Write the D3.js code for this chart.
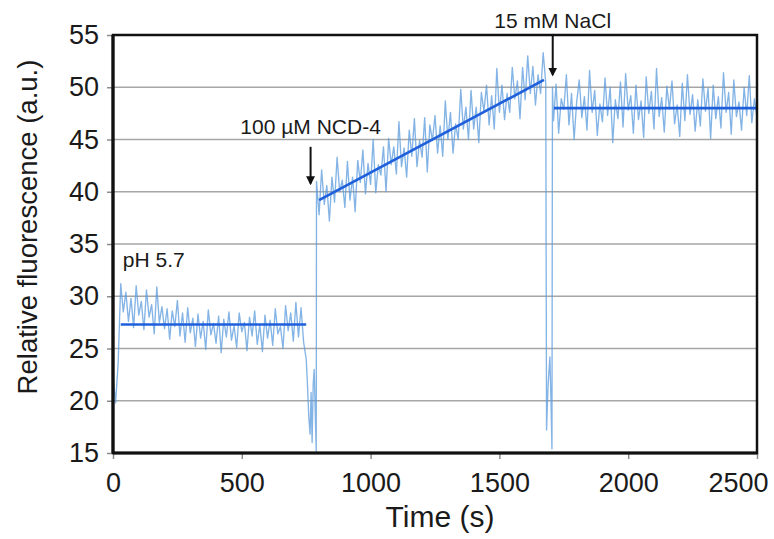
<!DOCTYPE html>
<html lang="en">
<head>
<meta charset="UTF-8">
<title>Relative fluorescence trace</title>
<script src="https://cdnjs.cloudflare.com/ajax/libs/d3/7.8.5/d3.min.js"></script>
<style>
  body { margin: 0; background: #fff; }
  svg text { font-family: "Liberation Sans", Arial, sans-serif; fill: #1a1a1a; }
</style>
</head>
<body>
<svg id="chart" width="774" height="539"></svg>
<script>
// axis ticks
const yTicks = [15, 20, 25, 30, 35, 40, 45, 50, 55];
const xTicks = [0, 500, 1000, 1500, 2000, 2500];
const sampleStep = 10; // seconds between samples in the plateau segments

// pH 5.7 baseline, t = 0 .. 750 s
const phBaseline = [22.4, 19.8, 23.6,
  31.2, 28.5, 30.4, 27.6, 29.8, 27.0, 31.0, 28.2, 29.5, 26.8,
  30.6, 28.0, 29.2, 26.4, 30.9, 27.5, 29.0, 26.9, 28.8, 25.9,
  28.6, 27.1, 29.6, 26.2, 28.4, 25.6, 28.9, 26.5, 27.9, 25.2,
  28.3, 26.0, 27.6, 24.9, 28.7, 26.3, 27.4, 25.5, 28.1, 24.6,
  27.8, 26.1, 28.5, 25.8, 27.2, 25.1, 28.4, 26.6, 27.5, 24.8,
  28.0, 26.2, 28.6, 25.4, 27.3, 24.7, 28.2, 26.0, 27.7, 25.3,
  28.8, 26.4, 27.1, 25.0, 29.1, 26.7, 28.4, 25.7, 29.4, 26.1,
  28.9, 25.6, 24.0];

// dip while adding 100 uM NCD-4
const ncdDipTimes  = [755, 760, 765, 769, 773, 777, 781, 785, 789];
const ncdDipValues = [21.5, 18.5, 16.8, 20.8, 16.0, 21.5, 23.0, 19.0, 15.1];

// rise after NCD-4, t = 790 .. 1680 s
const ncdRise = [
  41.0, 37.8, 42.1, 38.8, 40.6, 37.2, 41.4, 39.0, 43.3, 40.0,
  41.1, 38.5, 42.9, 39.2, 41.4, 38.1, 43.0, 40.9, 44.0, 39.8,
  42.7, 40.7, 45.0, 39.9, 42.6, 41.6, 44.3, 40.0, 45.1, 42.6,
  44.3, 41.7, 46.7, 42.4, 44.2, 41.4, 45.9, 43.4, 47.0, 42.4,
  44.9, 43.3, 47.1, 41.9, 46.4, 44.9, 47.3, 43.7, 46.3, 43.4,
  48.7, 45.0, 47.6, 43.7, 46.5, 45.0, 49.8, 46.0, 48.1, 45.0,
  49.7, 46.0, 48.1, 44.7, 49.5, 47.7, 50.2, 46.4, 49.2, 46.0,
  51.8, 47.6, 50.2, 46.9, 49.4, 47.6, 51.9, 48.9, 50.6, 47.0,
  51.9, 48.8, 53.0, 49.4, 52.0, 48.3, 51.2, 49.4, 53.3, 50.4];

// dip while adding 15 mM NaCl
const naclDipTimes  = [1683, 1689, 1696, 1700, 1704, 1706];
const naclDipValues = [17.2, 21.5, 24.2, 20.3, 15.4, 50.0];

// plateau after NaCl, t = 1710 .. 2500 s
const naclPlateau = [
  46.8, 50.3, 45.6, 48.9, 47.9, 51.2, 46.4, 49.4, 45.0, 48.6,
  50.7, 47.1, 49.1, 45.9, 51.6, 47.6, 49.7, 45.4, 48.4, 46.7,
  50.9, 47.3, 50.0, 44.7, 48.8, 47.0, 50.5, 46.2, 51.3, 47.8,
  49.2, 45.6, 50.2, 46.9, 48.7, 45.2, 51.0, 47.5, 49.6, 46.0,
  51.8, 47.2, 49.0, 45.7, 50.1, 47.9, 50.6, 46.5, 48.3, 45.3,
  50.4, 46.8, 51.2, 47.4, 49.3, 45.8, 48.8, 46.3, 50.8, 47.7,
  49.9, 45.1, 50.2, 47.0, 49.1, 46.1, 51.4, 47.6, 49.5, 45.5,
  50.7, 47.2, 48.6, 45.9, 50.0, 47.3, 51.1, 46.6, 48.9, 47.1];

// fitted lines per phase
const fitStartT = [30, 800, 1712];
const fitEndT   = [750, 1673, 2500];
const fitStartY = [27.3, 39.2, 48.0];
const fitEndY   = [27.3, 50.7, 48.0];

const width = 774, height = 539;
const margin = {top: 35, right: 17, bottom: 86, left: 113};
const innerW = width - margin.left - margin.right;
const innerH = height - margin.top - margin.bottom;

const svg = d3.select("#chart");
const defs = svg.append("defs");
const g = svg.append("g").attr("transform", `translate(${margin.left},${margin.top})`);

const x = d3.scaleLinear().domain([0, 2500]).range([0, innerW]);
const y = d3.scaleLinear().domain([15, 55]).range([innerH, 0]);

// stitch the trace together
const trace = [];
phBaseline.forEach((v, i) => trace.push([i * sampleStep, v]));
ncdDipTimes.forEach((t, i) => trace.push([t, ncdDipValues[i]]));
ncdRise.forEach((v, i) => trace.push([790 + i * sampleStep, v]));
naclDipTimes.forEach((t, i) => trace.push([t, naclDipValues[i]]));
naclPlateau.forEach((v, i) => trace.push([1710 + i * sampleStep, v]));

// grid lines
g.append("g")
  .selectAll("line")
  .data(yTicks.filter(d => d > 15 && d < 55))
  .join("line")
  .attr("x1", 0).attr("x2", innerW)
  .attr("y1", d => y(d)).attr("y2", d => y(d))
  .attr("stroke", "#a6a6a6")
  .attr("stroke-width", 1.6);

const tickFont = "'Liberation Sans', Arial, sans-serif";

// y axis ticks + labels
const yAxis = g.append("g")
  .call(d3.axisLeft(y).tickValues(yTicks).tickSize(6).tickPadding(8));
yAxis.select(".domain").remove();
yAxis.selectAll(".tick line").attr("stroke", "#8c8c8c").attr("stroke-width", 1.5);
yAxis.selectAll(".tick text")
  .attr("font-size", 27).attr("fill", "#1a1a1a")
  .style("font-family", tickFont);

// x axis ticks + labels
const xAxis = g.append("g")
  .attr("transform", `translate(0,${innerH})`)
  .call(d3.axisBottom(x).tickValues(xTicks).tickFormat(d3.format("d")).tickSize(6).tickPadding(14));
xAxis.select(".domain").remove();
xAxis.selectAll(".tick line").attr("stroke", "#8c8c8c").attr("stroke-width", 1.5);
xAxis.selectAll(".tick text")
  .attr("font-size", 27).attr("fill", "#1a1a1a")
  .style("font-family", tickFont);
// last label pulled inside the window, as in the original
xAxis.selectAll(".tick text")
  .filter(d => d === 2500)
  .attr("text-anchor", "end")
  .attr("x", 11);

// clip for the trace
defs.append("clipPath").attr("id", "plotClip")
  .append("rect").attr("width", innerW).attr("height", innerH);

const line = d3.line().x(d => x(d[0])).y(d => y(d[1]));

g.append("path")
  .datum(trace)
  .attr("clip-path", "url(#plotClip)")
  .attr("fill", "none")
  .attr("stroke", "#5b9bdc")
  .attr("stroke-opacity", 0.75)
  .attr("stroke-width", 1.35)
  .attr("stroke-linejoin", "round")
  .attr("d", line);

// fitted lines
g.append("g")
  .selectAll("line")
  .data(fitStartT)
  .join("line")
  .attr("x1", d => x(d))
  .attr("x2", (d, i) => x(fitEndT[i]))
  .attr("y1", (d, i) => y(fitStartY[i]))
  .attr("y2", (d, i) => y(fitEndY[i]))
  .attr("stroke", "#1f5fdc")
  .attr("stroke-width", 2.6);

// frame
g.append("rect")
  .attr("width", innerW).attr("height", innerH)
  .attr("fill", "none")
  .attr("stroke", "#111")
  .attr("stroke-width", 2.5);
g.append("line")
  .attr("x1", 0).attr("x2", 0).attr("y1", 0).attr("y2", innerH)
  .attr("stroke", "#111").attr("stroke-width", 3.2);
g.append("line")
  .attr("x1", 0).attr("x2", innerW).attr("y1", innerH).attr("y2", innerH)
  .attr("stroke", "#111").attr("stroke-width", 3.2);

// arrow marker
defs.append("marker")
  .attr("id", "arrowHead")
  .attr("viewBox", "0 0 10 10")
  .attr("refX", 8).attr("refY", 5)
  .attr("markerWidth", 4.5).attr("markerHeight", 4.5)
  .attr("orient", "auto")
  .append("path").attr("d", "M0,0 L10,5 L0,10 z").attr("fill", "#111");

function arrow(t, fromV, toV) {
  g.append("line")
    .attr("x1", x(t)).attr("x2", x(t))
    .attr("y1", y(fromV)).attr("y2", y(toV))
    .attr("stroke", "#111").attr("stroke-width", 2)
    .attr("marker-end", "url(#arrowHead)");
}

// annotations
g.append("text")
  .attr("x", x(38)).attr("y", y(32.8))
  .attr("font-size", 21)
  .text("pH 5.7");

g.append("text")
  .attr("x", x(767)).attr("y", y(45.5))
  .attr("text-anchor", "middle")
  .attr("font-size", 21)
  .text("100 µM NCD-4");
arrow(767, 44.3, 40.8);

g.append("text")
  .attr("x", x(1707)).attr("y", y(55.65))
  .attr("text-anchor", "middle")
  .attr("font-size", 21)
  .text("15 mM NaCl");
arrow(1707, 55.1, 51.2);

// axis titles
svg.append("text")
  .attr("x", 440)
  .attr("y", 527)
  .attr("text-anchor", "middle")
  .attr("font-size", 30)
  .text("Time (s)");

svg.append("text")
  .attr("transform", `translate(37,${margin.top + innerH / 2 - 17}) rotate(-90)`)
  .attr("text-anchor", "middle")
  .attr("font-size", 27.5)
  .text("Relative fluorescence (a.u.)");
</script>
</body>
</html>
